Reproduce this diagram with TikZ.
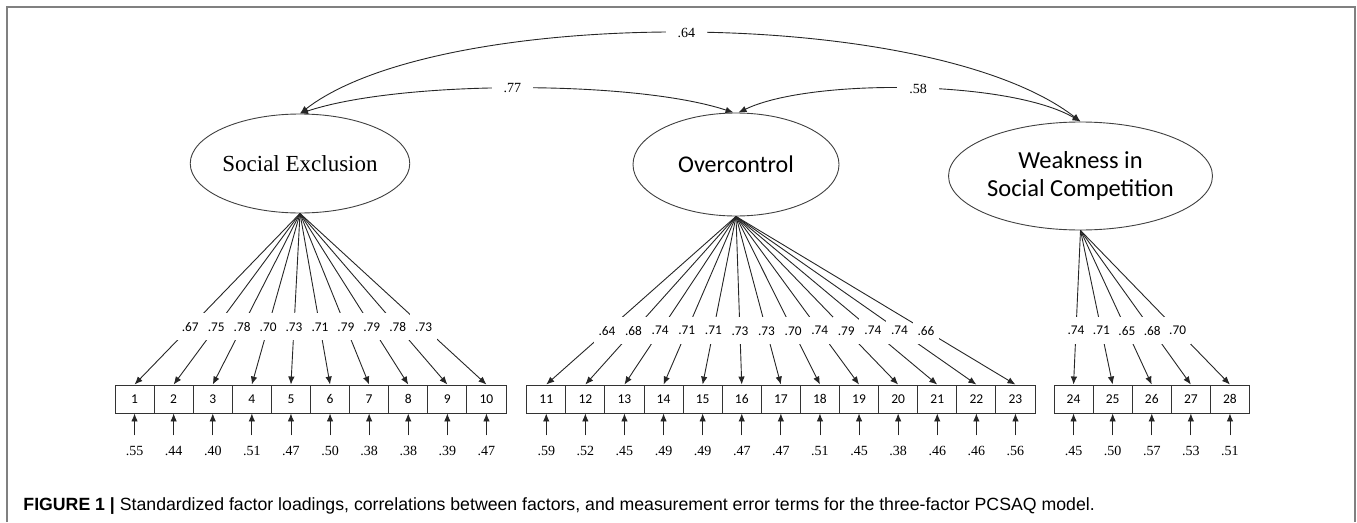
\documentclass[tikz,border=0pt]{standalone}
\usepackage{fontspec}
\setmainfont{Liberation Serif}
\newfontfamily\carl{Carlito}
\newfontfamily\helv{Liberation Sans}
\usetikzlibrary{arrows.meta,shapes.geometric}
\begin{document}
\begin{tikzpicture}[x=1pt,y=-1pt,
  line width=0.9pt,
  ar/.style={draw=black!85,-{Latex[length=8pt,width=6.5pt]}},
  dar/.style={draw=black!85,{Latex[length=8pt,width=6.5pt]}-{Latex[length=8pt,width=6.5pt]}},
  lv/.style={ellipse, draw=black!75, line width=0.9pt, inner sep=0pt, align=center},
  ob/.style={draw=black!80, minimum width=39.1pt, minimum height=28pt, inner sep=0pt, font=\carl\fontsize{13.5}{14}\selectfont},
  lab/.style={fill=white, inner xsep=5pt, inner ysep=0pt, minimum height=27pt, font=\carl\fontsize{13.3}{14}\selectfont},
  err/.style={inner sep=0pt, text height=9.5pt, text depth=0pt, font=\fontsize{14}{15}\selectfont},
  cor/.style={fill=white, inner xsep=12pt, inner ysep=2pt, font=\fontsize{14}{15}\selectfont}
]
\useasboundingbox (0,0) rectangle (1357,522);
\draw[line width=2pt, black!50] (7,522) -- (7,7) -- (1355,7) -- (1355,522);

% latent variables
\node[lv, minimum width=217pt, minimum height=99pt, font=\fontsize{23}{26}\selectfont] (SE) at (300,163.5) {Social Exclusion};
\node[lv, minimum width=206pt, minimum height=103pt, font=\carl\fontsize{24}{28}\selectfont] (OC) at (736,164.5) {Overcontrol};
\node[lv, minimum width=225pt, minimum height=108pt, font=\carl\fontsize{24.5}{28}\selectfont] (WS) at (1080.5,176) {Weakness in\\Social Competition};

% observed boxes
\foreach \i [evaluate=\i as \x using 134.55+39.1*(\i-1)] in {1,...,10}
  \node[ob] (b\i) at (\x,399) {\i};
\foreach \i [evaluate=\i as \x using 546.25+39.1*(\i-11)] in {11,...,23}
  \node[ob] (b\i) at (\x,399) {\i};
\foreach \i [evaluate=\i as \x using 1073.55+39.1*(\i-24)] in {24,...,28}
  \node[ob] (b\i) at (\x,399) {\i};

% loadings
\foreach \i/\v in {1/.67,2/.75,3/.78,4/.70,5/.73,6/.71,7/.79,8/.79,9/.78,10/.73}
  \draw[ar] (SE.south) -- (b\i.north) node[lab,pos=0.663] {\v};
\foreach \i/\v in {11/.64,12/.68,13/.74,14/.71,15/.71,16/.73,17/.73,18/.70,19/.74,20/.79,21/.74,22/.74,23/.66}
  \draw[ar] (OC.south) -- (b\i.north) node[lab,pos=0.68] {\v};
\foreach \i/\v in {24/.74,25/.71,26/.65,27/.68,28/.70}
  \draw[ar] (WS.south) -- (b\i.north) node[lab,pos=0.65] {\v};

% error terms
\foreach \i/\v in {1/.55,2/.44,3/.40,4/.51,5/.47,6/.50,7/.38,8/.38,9/.39,10/.47,
  11/.59,12/.52,13/.45,14/.49,15/.49,16/.47,17/.47,18/.51,19/.45,20/.38,21/.46,22/.46,23/.56,
  24/.45,25/.50,26/.57,27/.53,28/.51}{
  \path (b\i.south) ++(0,37) node[err] (e\i) {\v};
  \draw[ar] ([yshift=10pt]e\i.north) -- (b\i.south);
}

% correlations
\draw[dar] (SE.north) .. controls (440,5) and (930,5) .. node[cor,pos=0.5] {.64} (WS.north);
\draw[dar] (SE.north) .. controls (400,80) and (635,80) .. node[cor,pos=0.49] {.77} ([xshift=-2.5pt]OC.north);
\draw[dar] ([xshift=2.5pt]OC.north) .. controls (810,78) and (1010,80) .. node[cor,pos=0.52] {.58} (WS.north);

% caption
\node[anchor=base west, inner sep=0pt, font=\helv\fontsize{17.7}{20}\selectfont] (cap) at (23,510)
  {\textbf{FIGURE 1} \textbf{|} Standardized factor loadings, correlations between factors, and measurement error terms for the three-factor PCSAQ model.};
\end{tikzpicture}
\end{document}
